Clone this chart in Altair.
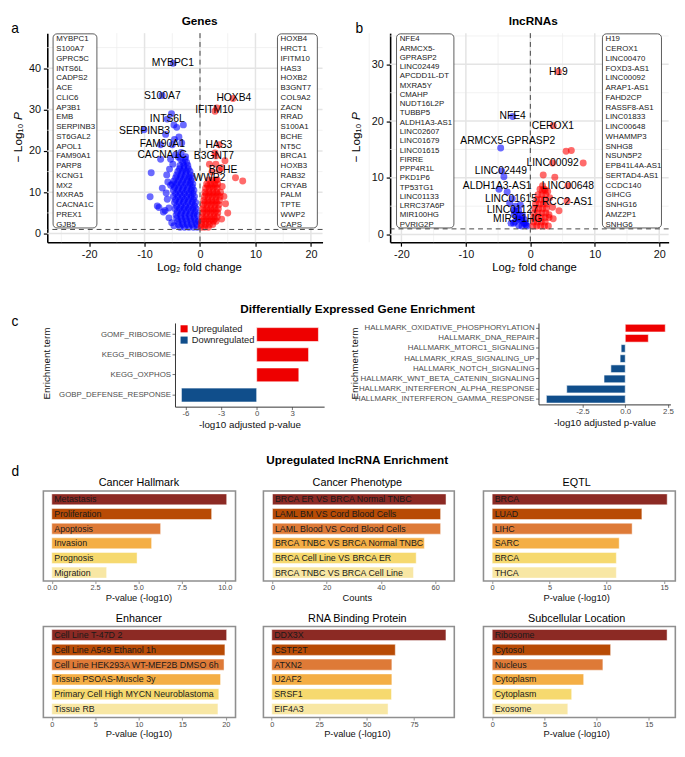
import altair as alt
import pandas as pd

FONT = "Liberation Sans, Arial, sans-serif"

# ------------------------------------------------------------------
# Panel a : genes volcano  (log2 fold change, -log10 P)
# ------------------------------------------------------------------
genes_down = [
    [-4.86, 41.2], [-6.84, 33.4], [-5.14, 29.0], [-5.9, 27.7], [-4.7, 26.3], [-3.0, 26.3],
    [-4.2, 25.7], [-6.2, 24.0], [-10.1, 25.1], [-3.3, 21.9], [-7.1, 21.5], [-5.0, 21.5],
    [-4.4, 19.1], [-7.1, 18.0], [-5.3, 18.0], [-8.8, 14.7], [-9.0, 8.9], [-7.7, 6.7],
    [-7.4, 6.3], [-5.9, 8.3], [-5.3, 11.7], [-6.6, 5.2], [-6.3, 5.6], [-5.6, 6.2],
    [-6.1, 9.8], [-5.8, 12.5], [-6.0, 14.2], [-5.5, 15.6], [-4.9, 16.8], [-3.9, 18.5],
    [-3.4, 19.6], [-2.6, 18.6], [-5.6, 3.8], [-5.1, 2.6], [-4.7, 1.9], [-6.8, 11.0],
    [-4.6, 22.8], [-3.8, 23.4],
    [-3.6, 1.5], [-2.8, 1.5], [-2.0, 1.5], [-1.2, 1.5], [-0.5, 1.5],
    [-3.9, 2.2], [-3.1, 2.2], [-2.3, 2.2], [-1.5, 2.2], [-0.6, 2.2],
    [-4.0, 3.0], [-3.2, 3.0], [-2.4, 3.0], [-1.6, 3.0], [-0.8, 3.0], [-0.3, 3.0],
    [-4.2, 3.7], [-3.4, 3.7], [-2.6, 3.7], [-1.8, 3.7], [-1.0, 3.7],
    [-4.3, 4.5], [-3.5, 4.5], [-2.7, 4.5], [-1.9, 4.5], [-1.1, 4.5], [-0.5, 4.5],
    [-4.1, 5.2], [-3.3, 5.2], [-2.5, 5.2], [-1.7, 5.2], [-0.9, 5.2],
    [-4.5, 6.0], [-3.7, 6.0], [-2.9, 6.0], [-2.1, 6.0], [-1.3, 6.0], [-0.7, 6.0],
    [-4.2, 6.7], [-3.4, 6.7], [-2.6, 6.7], [-1.8, 6.7], [-1.0, 6.7],
    [-4.6, 7.5], [-3.8, 7.5], [-3.0, 7.5], [-2.2, 7.5], [-1.4, 7.5], [-0.8, 7.5],
    [-4.4, 8.2], [-3.6, 8.2], [-2.8, 8.2], [-2.0, 8.2], [-1.2, 8.2],
    [-4.8, 9.0], [-4.0, 9.0], [-3.2, 9.0], [-2.4, 9.0], [-1.6, 9.0], [-1.0, 9.0],
    [-4.4, 9.7], [-3.6, 9.7], [-2.8, 9.7], [-2.0, 9.7], [-1.3, 9.7],
    [-4.8, 10.5], [-4.0, 10.5], [-3.2, 10.5], [-2.4, 10.5], [-1.6, 10.5], [-1.1, 10.5],
    [-4.6, 11.2], [-3.8, 11.2], [-3.0, 11.2], [-2.2, 11.2], [-1.4, 11.2],
    [-5.0, 12.0], [-4.2, 12.0], [-3.4, 12.0], [-2.6, 12.0], [-1.8, 12.0], [-1.3, 12.0],
    [-4.7, 12.7], [-3.9, 12.7], [-3.1, 12.7], [-2.3, 12.7], [-1.6, 12.7],
    [-4.4, 13.5], [-3.6, 13.5], [-2.8, 13.5], [-2.0, 13.5], [-1.5, 13.5],
    [-4.2, 14.2], [-3.4, 14.2], [-2.6, 14.2], [-1.7, 14.2],
    [-4.0, 15.0], [-3.2, 15.0], [-2.5, 15.0], [-1.8, 15.0],
    [-3.7, 15.7], [-2.9, 15.7], [-2.1, 15.7],
    [-3.6, 16.5], [-2.9, 16.5], [-2.2, 16.5],
    [-3.1, 17.2], [-2.4, 17.2],
    [-3.5, 18.0], [-2.7, 18.0],
]
genes_up = [
    [5.96, 32.7], [3.04, 30.4], [2.7, 29.6], [3.45, 21.5], [2.7, 19.5], [2.86, 18.8],
    [4.5, 17.6], [1.7, 16.8], [2.86, 16.8], [2.16, 14.9], [3.45, 15.3], [6.4, 13.5],
    [7.7, 12.7], [5.0, 5.0], [4.0, 11.4], [3.1, 13.0], [3.9, 16.0], [4.3, 9.0],
    [4.6, 7.2], [3.9, 3.5],
    [0.2, 1.5], [0.8, 1.5], [1.5, 1.5],
    [0.3, 2.2], [1.0, 2.2], [1.7, 2.2], [2.3, 2.2],
    [0.3, 3.0], [1.0, 3.0], [1.7, 3.0], [2.4, 3.0], [2.9, 3.0],
    [0.7, 3.5], [1.4, 3.5], [2.1, 3.5], [2.7, 3.5],
    [0.4, 4.0], [1.1, 4.0], [1.8, 4.0], [2.5, 4.0], [3.1, 4.0],
    [0.5, 5.0], [1.2, 5.0], [1.9, 5.0], [2.6, 5.0], [3.2, 5.0],
    [0.8, 5.5], [1.5, 5.5], [2.2, 5.5], [2.9, 5.5],
    [0.5, 6.0], [1.2, 6.0], [1.9, 6.0], [2.6, 6.0], [3.3, 6.0],
    [0.6, 7.0], [1.3, 7.0], [2.0, 7.0], [2.7, 7.0], [3.4, 7.0],
    [0.9, 7.5], [1.6, 7.5], [2.3, 7.5], [3.0, 7.5],
    [0.7, 8.0], [1.4, 8.0], [2.1, 8.0], [2.8, 8.0], [3.5, 8.0],
    [0.8, 9.0], [1.5, 9.0], [2.2, 9.0], [2.9, 9.0], [3.6, 9.0],
    [1.1, 9.5], [1.8, 9.5], [2.5, 9.5], [3.2, 9.5],
    [0.9, 10.0], [1.6, 10.0], [2.3, 10.0], [3.0, 10.0], [3.7, 10.0],
    [1.0, 11.0], [1.7, 11.0], [2.4, 11.0], [3.1, 11.0],
    [1.4, 11.5], [2.1, 11.5], [2.8, 11.5],
    [1.2, 12.0], [1.9, 12.0], [2.6, 12.0], [3.2, 12.0],
    [1.6, 13.0], [2.3, 13.0], [2.9, 13.0],
]
genes_label_names = ["MYBPC1", "S100A7", "HOXB4", "IFITM10", "INTS6L", "SERPINB3",
                     "FAM90A1", "CACNA1C", "HAS3", "B3GNT7", "BCHE", "WWP2"]
genes_label_x = [-4.9, -6.8, 6.1, 2.6, -5.9, -10.0, -6.8, -6.85, 3.4, 2.5, 4.15, 1.7]
genes_label_y = [41.2, 33.4, 32.7, 29.8, 27.7, 24.8, 21.6, 19.1, 21.5, 18.8, 15.3, 13.5]
genes_box_left = ["MYBPC1", "S100A7", "GPRC5C", "INTS6L", "CADPS2", "ACE", "CLIC6", "AP3B1",
                  "EMB", "SERPINB3", "ST6GAL2", "APOL1", "FAM90A1", "PARP8", "KCNG1", "MX2",
                  "MXRA5", "CACNA1C", "PREX1", "GJB5"]
genes_box_right = ["HOXB4", "HRCT1", "IFITM10", "HAS3", "HOXB2", "B3GNT7", "COL9A2", "ZACN",
                   "RRAD", "S100A1", "BCHE", "NT5C", "BRCA1", "HOXB3", "RAB32", "CRYAB",
                   "PALM", "TPTE", "WWP2", "CAPS"]

# ------------------------------------------------------------------
# Panel b : lncRNA volcano
# ------------------------------------------------------------------
lnc_down = [
    [-2.74, 20.8], [-4.6, 15.25], [-4.45, 11.2], [-4.1, 10.2], [-4.86, 8.0], [-3.6, 7.5],
    [-2.8, 6.3], [-1.55, 5.2], [-2.3, 4.1], [-1.6, 3.5], [-1.3, 2.6], [-0.8, 2.0],
    [-2.6, 2.0], [-1.9, 2.8], [-2.3, 5.0], [-1.8, 4.2], [-2.5, 3.5], [-2.0, 3.0],
    [-1.5, 2.5], [-1.0, 2.0], [-0.7, 1.7], [-2.4, 2.2], [-3.0, 2.0], [-1.2, 3.3],
    [-0.5, 1.5], [-1.8, 1.6], [-2.6, 4.3], [-3.2, 5.5], [-1.3, 1.5], [-0.9, 2.6],
]
lnc_up = [
    [4.35, 28.7], [3.55, 19.2], [5.55, 14.7], [6.36, 14.8], [8.2, 12.6], [3.45, 12.6],
    [2.0, 10.5], [3.8, 10.1], [5.85, 8.6], [5.7, 5.9], [3.45, 4.8], [4.45, 4.2],
    [3.55, 2.8], [2.7, 7.6], [2.2, 8.0], [3.0, 6.5], [2.9, 3.5], [1.9, 8.6], [1.5, 8.0],
    [0.4, 1.5], [1.0, 1.5], [1.6, 1.5], [2.2, 1.5], [2.8, 1.5],
    [0.5, 2.2], [1.1, 2.2], [1.7, 2.2], [2.3, 2.2],
    [0.5, 3.0], [1.1, 3.0], [1.7, 3.0], [2.3, 3.0], [2.9, 3.0],
    [0.6, 3.8], [1.2, 3.8], [1.8, 3.8], [2.4, 3.8],
    [0.7, 4.6], [1.3, 4.6], [1.9, 4.6], [2.5, 4.6],
    [0.8, 5.4], [1.4, 5.4], [2.0, 5.4], [2.6, 5.4],
    [1.0, 6.2], [1.6, 6.2], [2.2, 6.2],
    [1.2, 7.0], [1.8, 7.0], [2.4, 7.0],
    [1.9, 7.8], [2.3, 7.8],
]
lnc_label_names = ["H19", "NFE4", "CEROX1", "ARMCX5-GPRASP2", "LINC00092", "LINC02449",
                   "ALDH1A3-AS1", "LINC00648", "LINC01615", "RCC2-AS1", "LINC01127", "MIR9-1HG"]
lnc_label_x = [4.35, -2.74, 3.5, -3.5, 3.45, -4.57, -5.15, 5.83, -3.0, 5.75, -2.8, -1.96]
lnc_label_y = [28.7, 20.8, 19.2, 16.4, 12.6, 11.2, 8.6, 8.6, 6.3, 5.8, 4.4, 2.8]
lnc_box_left = ["NFE4", "ARMCX5-", "GPRASP2", "LINC02449", "APCDD1L-DT", "MXRA5Y", "CMAHP",
                "NUDT16L2P", "TUBBP5", "ALDH1A3-AS1", "LINC02607", "LINC01679", "LINC01615",
                "FIRRE", "PPP4R1L", "PKD1P6", "TP53TG1", "LINC01133", "LRRC37A6P",
                "MIR100HG", "PVRIG2P"]
lnc_box_right = ["H19", "CEROX1", "LINC00470", "FOXD3-AS1", "LINC00092", "ARAP1-AS1", "FAHD2CP",
                 "RASSF8-AS1", "LINC01833", "LINC00648", "WHAMMP3", "SNHG8", "NSUN5P2",
                 "EPB41L4A-AS1", "SERTAD4-AS1", "CCDC140", "GIHCG", "SNHG16", "AMZ2P1", "SNHG6"]

FC_CUTOFF = 0.0
P_CUTOFF = 1.0

# ------------------------------------------------------------------
# Panel c : enrichment bars
# ------------------------------------------------------------------
c1_terms = ["GOMF_RIBOSOME", "KEGG_RIBOSOME", "KEGG_OXPHOS", "GOBP_DEFENSE_RESPONSE"]
c1_values = [5.2, 4.37, 3.55, -6.34]
c2_terms = ["HALLMARK_OXIDATIVE_PHOSPHORYLATION", "HALLMARK_DNA_REPAIR",
            "HALLMARK_MTORC1_SIGNALING", "HALLMARK_KRAS_SIGNALING_UP",
            "HALLMARK_NOTCH_SIGNALING", "HALLMARK_WNT_BETA_CATENIN_SIGNALING",
            "HALLMARK_INTERFERON_ALPHA_RESPONSE", "HALLMARK_INTERFERON_GAMMA_RESPONSE"]
c2_values = [2.34, 1.35, -0.24, -0.30, -0.84, -1.24, -3.42, -4.61]

# ------------------------------------------------------------------
# Panel d : upregulated lncRNA enrichment
# ------------------------------------------------------------------
d_titles = ["Cancer Hallmark", "Cancer Phenotype", "EQTL",
            "Enhancer", "RNA Binding Protein", "Subcellular Location"]
d_xtitles = ["P-value (-log10)", "Counts", "P-value (-log10)",
             "P-value (-log10)", "P-value (-log10)", "P-value (-log10)"]
hallmark_labels = ["Metastasis", "Proliferation", "Apoptosis", "Invasion", "Prognosis", "Migration"]
hallmark_values = [10.11, 9.24, 6.29, 5.77, 4.93, 3.17]
phenotype_labels = ["BRCA ER VS BRCA Normal TNBC", "LAML BM VS Cord Blood Cells",
                    "LAML Blood VS Cord Blood Cells", "BRCA TNBC VS BRCA Normal TNBC",
                    "BRCA Cell Line VS BRCA ER", "BRCA TNBC VS BRCA Cell Line"]
phenotype_values = [64, 62, 62, 56, 53, 52]
eqtl_labels = ["BRCA", "LUAD", "LIHC", "SARC", "BRCA", "THCA"]
eqtl_values = [15.28, 13.07, 12.22, 11.09, 10.84, 10.84]
enhancer_labels = ["Cell Line T-47D 2", "Cell Line A549 Ethanol 1h",
                   "Cell Line HEK293A WT-MEF2B DMSO 6h", "Tissue PSOAS-Muscle 3y",
                   "Primary Cell High MYCN Neuroblastoma", "Tissue RB"]
enhancer_values = [20.1, 19.9, 19.8, 19.4, 19.2, 19.1]
rbp_labels = ["DDX3X", "CSTF2T", "ATXN2", "U2AF2", "SRSF1", "EIF4A3"]
rbp_values = [91.8, 65.1, 63.3, 63.3, 63.1, 61.3]
subcell_labels = ["Ribosome", "Cytosol", "Nucleus", "Cytoplasm", "Cytoplasm", "Exosome"]
subcell_values = [16.75, 11.34, 10.6, 8.76, 7.61, 7.24]

D_PALETTE = ["#8C2A24", "#B84B05", "#DE7A37", "#F4AE45", "#F6D96F", "#F8E7A4"]
UP_DOWN_COLORS = ["#EE0000", "#104E8B"]

HYPHEN = "replace(datum.label, '\u2212', '-')"

# layout scaling from reference pixels to output pixels
SX, SY = 0.99, 0.976


def ox(x):
    return round((x - 3) * SX, 1)


def oy(y):
    return round((y - 1) * SY, 1)


def spacer(w, h=1):
    return alt.Chart(pd.DataFrame({"s": [0]})).mark_point(opacity=0).encode(
        x=alt.value(0), y=alt.value(0)).properties(width=w, height=h)


def volcano(down, up, lab_n, lab_x, lab_y, box_l, box_r, xdom, ydom, yticks,
            y_major, y_minor, W, H, ref_x0, boxL, boxR, lhL, lhR):
    def rx(x):
        return round((x - ref_x0) * SX, 1)

    def ry(y):
        return round((y - 20) * SY, 1)

    xs = alt.Scale(domain=xdom, nice=False, zero=False)
    ys = alt.Scale(domain=ydom, nice=False, zero=False)
    pts = pd.DataFrame(
        [{"x": p[0], "y": p[1], "dir": "down"} for p in down]
        + [{"x": p[0], "y": p[1], "dir": "up"} for p in up])
    labs = pd.DataFrame({"name": lab_n, "x": lab_x, "y": lab_y})
    ax_common = dict(title=None, grid=False, domainColor="black", domainWidth=1.6,
                     tickColor="black", tickWidth=1.2, tickSize=4, labelFontSize=11,
                     labelColor="#111", labelFont=FONT, labelExpr=HYPHEN)
    xaxis = alt.Axis(values=[-20, -10, 0, 10, 20], labelPadding=3, **ax_common)
    yaxis = alt.Axis(values=yticks, labelPadding=3, **ax_common)

    def X(f):
        return alt.X(f, scale=xs, axis=xaxis)

    def Y(f):
        return alt.Y(f, scale=ys, axis=yaxis)

    x_major = [-20, -10, 0, 10, 20]
    x_minor = [-25, -15, -5, 5, 15]
    gxm = alt.Chart(pd.DataFrame({"g": x_minor})).mark_rule(color="#EEEEEE", strokeWidth=0.8).encode(x=X("g:Q"))
    gym = alt.Chart(pd.DataFrame({"g": y_minor})).mark_rule(color="#EEEEEE", strokeWidth=0.8).encode(y=Y("g:Q"))
    gxM = alt.Chart(pd.DataFrame({"g": x_major})).mark_rule(color="#E4E4E4", strokeWidth=1.5).encode(x=X("g:Q"))
    gyM = alt.Chart(pd.DataFrame({"g": y_major})).mark_rule(color="#E4E4E4", strokeWidth=1.5).encode(y=Y("g:Q"))
    points = alt.Chart(pts).mark_circle(size=50, opacity=0.58).encode(
        x=X("x:Q"), y=Y("y:Q"),
        color=alt.Color("dir:N", scale=alt.Scale(domain=["down", "up"], range=["#0000FF", "#FF0000"]),
                        legend=None))
    dx = alt.Chart(pd.DataFrame({"v": [FC_CUTOFF]})).mark_rule(
        color="#444", strokeWidth=1, strokeDash=[5, 4]).encode(x=X("v:Q"))
    dy = alt.Chart(pd.DataFrame({"v": [P_CUTOFF]})).mark_rule(
        color="#444", strokeWidth=1, strokeDash=[5, 4]).encode(y=Y("v:Q"))

    layers = [gxm, gym, gxM, gyM, points, dx, dy]
    for (bx0, bx1), names, lh in [(boxL, box_l, lhL), (boxR, box_r, lhR)]:
        layers.append(alt.Chart(pd.DataFrame({"b": [0]})).mark_rect(
            fill="white", stroke="#333", strokeWidth=0.8, cornerRadius=4).encode(
            x=alt.value(rx(bx0)), x2=alt.value(rx(bx1)), y=alt.value(ry(20.7)), y2=alt.value(ry(223.2))))
        layers.append(alt.Chart(pd.DataFrame({"t": ["\n".join(names)]})).mark_text(
            lineBreak="\n", lineHeight=lh * SY, align="left", baseline="top", fontSize=8,
            font=FONT, color="#222").encode(
            x=alt.value(rx(bx0) + 3.2), y=alt.value(ry(22.4)), text="t:N"))
    layers.append(alt.Chart(labs).mark_text(fontSize=10.5, font=FONT, color="black").encode(
        x=X("x:Q"), y=Y("y:Q"), text="name:N"))
    return alt.layer(*layers).properties(width=W, height=H)


def enrich(terms, values, xdom, ticks, fmt, W, H, pin, pout, show_legend):
    dirs = ["Upregulated" if v > 0 else "Downregulated" for v in values]
    df = pd.DataFrame({"term": terms, "value": values, "direction": dirs})
    if show_legend:
        legend = alt.Legend(title=None, orient="none", legendX=4.5, legendY=1.2, symbolType="square",
                            symbolSize=52, symbolStrokeWidth=0, labelFontSize=9.5, labelFont=FONT,
                            labelColor="#222", rowPadding=0.5, padding=0, labelOffset=3)
    else:
        legend = None
    return alt.Chart(df).mark_bar(stroke="white", strokeWidth=0.6).encode(
        y=alt.Y("term:N", sort=terms, scale=alt.Scale(paddingInner=pin, paddingOuter=pout),
                axis=alt.Axis(title=None, labelFontSize=8, labelColor="#4D4D4D", labelFont=FONT,
                              tickColor="#4D4D4D", tickSize=3, tickWidth=0.8, domainColor="#333",
                              domainWidth=1, labelPadding=1.5, labelLimit=400)),
        x=alt.X("value:Q", stack=None, scale=alt.Scale(domain=xdom, nice=False, zero=False),
                axis=alt.Axis(values=ticks, format=fmt, labelExpr=HYPHEN, title=None, grid=False,
                              labelFontSize=8, labelColor="#4D4D4D", labelFont=FONT,
                              tickColor="#4D4D4D", tickSize=3, tickWidth=0.8, domainColor="#333",
                              domainWidth=1, labelPadding=0.5)),
        color=alt.Color("direction:N", scale=alt.Scale(domain=["Upregulated", "Downregulated"],
                                                       range=UP_DOWN_COLORS), legend=legend),
    ).properties(width=W, height=H)


def dpanel(labels, values, xdom, ticks, fmt, W, H):
    df = pd.DataFrame({"rank": list(range(1, len(labels) + 1)), "label": labels, "value": values})
    ysc = alt.Scale(paddingInner=0.25, paddingOuter=0.2)
    xs = alt.Scale(domain=xdom, nice=False, zero=False)
    xaxis = alt.Axis(values=ticks, format=fmt, title=None, grid=False, domain=False,
                     labelFontSize=7.5, labelColor="#4D4D4D", labelFont=FONT,
                     tickColor="#777", tickSize=2.5, tickWidth=0.8, labelPadding=0.5)
    bars = alt.Chart(df).mark_bar(stroke="white", strokeWidth=0.8, strokeOpacity=0.6).encode(
        y=alt.Y("rank:O", axis=None, scale=ysc),
        x=alt.X("value:Q", stack=None, scale=xs, axis=xaxis),
        color=alt.Color("rank:O", scale=alt.Scale(domain=list(range(1, 7)), range=D_PALETTE), legend=None))
    text = alt.Chart(df).transform_calculate(base="0").mark_text(
        align="left", baseline="middle", dx=2.5, fontSize=9, font=FONT, color="#1A1A1A").encode(
        y=alt.Y("rank:O", axis=None, scale=ysc),
        x=alt.X("base:Q", scale=xs, axis=xaxis),
        text="label:N")
    return alt.layer(bars, text).properties(
        width=W, height=H, view=alt.ViewBackground(stroke="#8F8F8F", strokeWidth=1.6))


def otext(items, **props):
    df = pd.DataFrame(items, columns=["x", "y", "t"])
    return alt.Chart(df).mark_text(font=FONT, **props).encode(
        x=alt.X("x:Q", scale=None, axis=None), y=alt.Y("y:Q", scale=None, axis=None), text="t:N")


# ---------------- build cells ----------------
H_ROW1, H_C1, H_C2, H_D3, H_D4 = 212.8, 85.2, 82.9, 91.7, 92.7

A = volcano(genes_down, genes_up, genes_label_names, genes_label_x, genes_label_y,
            genes_box_left, genes_box_right, [-27.54, 22.1], [-2.09, 48.5], [0, 10, 20, 30, 40],
            [0, 10, 20, 30, 40], [5, 15, 25, 35, 45], 280.2, H_ROW1, 40,
            (46, 91), (276.7, 317.7), 10.17, 10.17)
B = volcano(lnc_down, lnc_up, lnc_label_names, lnc_label_x, lnc_label_y,
            lnc_box_left, lnc_box_right, [-21.75, 21.46], [-1.35, 35.5], [0, 10, 20, 30],
            [0, 10, 20, 30], [5, 15, 25, 35], 283.5, H_ROW1, 391.7,
            (398.3, 457.3), (610, 670.7), 9.67, 10.17)
C1 = enrich(c1_terms, c1_values, [-6.88, 5.68], [-6, -3, 0, 3], "d", 151.8, H_C1, 0.31, 0.23, True)
C2 = enrich(c2_terms, c2_values, [-5.07, 2.64], [-2.5, 0, 2.5], ".1f", 134.3, H_C2, 0.24, 0.13, False)

D1 = dpanel(hallmark_labels, hallmark_values, [-0.487, 10.62], [0, 2.5, 5, 7.5, 10], ".1f", 195.6, H_D3)
D2 = dpanel(phenotype_labels, phenotype_values, [-3.34, 67.05], [0, 20, 40, 60], "d", 194.3, H_D3)
D3 = dpanel(eqtl_labels, eqtl_values, [-0.76, 15.99], [0, 5, 10, 15], "d", 195.3, H_D3)
D4 = dpanel(enhancer_labels, enhancer_values, [-0.97, 21.12], [0, 5, 10, 15, 20], "d", 195.6, H_D4)
D5 = dpanel(rbp_labels, rbp_values, [-4.4, 96.2], [0, 25, 50, 75], "d", 194.3, H_D4)
D6 = dpanel(subcell_labels, subcell_values, [-0.84, 17.54], [0, 5, 10, 15], "d", 195.3, H_D4)

# ---------------- overlay (page-level texts) ----------------
frame = alt.Chart(pd.DataFrame({"f": [0]})).mark_rect(opacity=0).encode(
    x=alt.value(0), x2=alt.value(669), y=alt.value(0), y2=alt.value(736))
letters = otext([(ox(3.3), oy(16.7), "a"), (ox(357.3), oy(16.7), "b"),
                 (0.5, oy(321.7), "c"), (0.5, oy(478.3), "d")],
                fontSize=14, align="left", baseline="middle", color="black")
bold = otext([(ox(197), 6.3, "Genes"), (ox(540), 6.3, "lncRNAs"),
              (ox(359.5), oy(308.3), "Differentially Expressed Gene Enrichment"),
              (ox(359), oy(466), "Upregulated lncRNA Enrichment")],
             fontSize=12, fontWeight="bold", align="center", baseline="middle", color="black")
vxt = otext([(ox(196.8), oy(265.7), "Log\u2082 fold change"), (ox(541.3), oy(265.7), "Log\u2082 fold change")],
            fontSize=11.5, align="center", baseline="middle", color="black")
vyt1 = otext([(ox(10), oy(135), "\u2212 Log\u2081\u2080"), (ox(358), oy(135), "\u2212 Log\u2081\u2080")],
             fontSize=12, angle=270, align="center", baseline="middle", color="black")
vyt2 = otext([(ox(10), oy(107), "P"), (ox(358), oy(107), "P")],
             fontSize=12, fontStyle="italic", angle=270, align="center", baseline="middle", color="black")
cyt = otext([(ox(40), oy(365), "Enrichment term"), (ox(356.7), oy(365), "Enrichment term")],
            fontSize=10, angle=270, align="center", baseline="middle", color="#111")
cxt = otext([(ox(248.8), oy(429.5), "-log10 adjusted p-value"), (ox(613.8), oy(427), "-log10 adjusted p-value")],
            fontSize=10, align="center", baseline="middle", color="#111")
dcx = [134.5, 359.2, 584.7]
dtt = otext([(ox(dcx[i % 3]), oy(490 if i < 3 else 631.7), d_titles[i]) for i in range(6)],
            fontSize=11, align="center", baseline="middle", color="black")
dxt = otext([(ox(dcx[i % 3]), oy(609.5 if i < 3 else 751.5), d_xtitles[i]) for i in range(6)],
            fontSize=9.5, align="center", baseline="middle", color="#111")

R0 = alt.layer(frame, letters, bold, vxt, vyt1, vyt2, cyt, cxt, dtt, dxt).properties(width=1, height=18.5)


def row(*charts):
    return alt.hconcat(*charts, spacing=0, bounds="flush").resolve_scale(color="independent")


R1 = row(spacer(36.6), A, spacer(68.0), B)
R2 = row(spacer(167.0), C1, spacer(217.1), C2)
R3 = row(spacer(32.4), D1, spacer(27.4), D2, spacer(28.4), D3)
R4 = row(spacer(32.4), D4, spacer(27.4), D5, spacer(28.4), D6)

# nested rows occupy no height in a flush layout, so the gap spacers carry each row's height
chart = alt.vconcat(R0, R1, spacer(1, H_ROW1 + 81.7), R2, spacer(1, H_C1 + 84.9), R3,
                    spacer(1, H_D3 + 45.6), R4,
                    spacing=0, bounds="flush").resolve_scale(color="independent").properties(
    padding=0, background="white"
).configure(font=FONT).configure_view(stroke=None)

chart.save("out.html", embed_options={"renderer": "svg", "actions": False})
